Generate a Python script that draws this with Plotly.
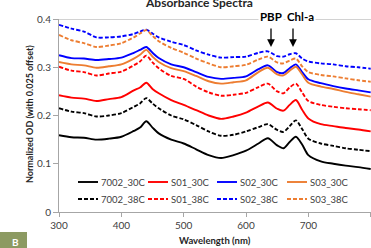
import plotly.graph_objects as go

wavelength = [300, 320, 340, 360, 380, 400, 420, 430, 440, 450, 460, 480, 500, 520, 540, 560,
              580, 600, 620, 635, 650, 660, 670, 680, 690, 700, 720, 740, 760, 780, 800]

od_7002_30C = [.159, .155, .154, .150, .152, .156, .168, .175, .188, .175, .163, .150, .142, .130, .118, .112,
               .118, .127, .142, .153, .138, .132, .145, .156, .140, .118, .105, .100, .096, .093, .089]
od_7002_38C = [.215, .208, .205, .198, .200, .205, .218, .225, .236, .225, .215, .200, .192, .180, .167, .158,
               .160, .167, .176, .182, .170, .166, .178, .190, .172, .152, .142, .137, .132, .129, .126]
od_S01_30C = [.242, .237, .235, .230, .234, .238, .252, .258, .268, .255, .246, .232, .222, .211, .200, .193,
              .198, .206, .219, .227, .214, .210, .222, .232, .212, .194, .182, .178, .174, .171, .167]
od_S01_38C = [.301, .293, .290, .283, .287, .291, .304, .312, .324, .310, .298, .282, .276, .260, .248, .241,
              .243, .247, .259, .266, .250, .246, .258, .266, .248, .230, .222, .218, .215, .213, .211]
od_S02_30C = [.325, .319, .318, .315, .317, .320, .330, .336, .342, .330, .319, .306, .300, .290, .280, .276,
              .278, .281, .296, .304, .290, .288, .298, .306, .290, .275, .267, .261, .256, .252, .248]
od_S02_38C = [.388, .380, .374, .362, .362, .364, .369, .374, .378, .370, .362, .353, .346, .335, .326, .320,
              .321, .322, .330, .333, .323, .322, .327, .329, .318, .312, .308, .306, .302, .300, .297]
od_S03_30C = [.311, .306, .304, .299, .302, .306, .318, .326, .336, .322, .311, .298, .292, .282, .271, .266,
              .269, .273, .290, .299, .285, .283, .293, .301, .285, .268, .260, .255, .249, .244, .239]
od_S03_38C = [.367, .356, .350, .342, .345, .350, .362, .370, .377, .365, .354, .340, .330, .318, .308, .300,
              .302, .305, .316, .322, .310, .308, .314, .318, .302, .290, .284, .281, .277, .273, .270]

series_names = ["7002_30C", "S01_30C", "S02_30C", "S03_30C",
                "7002_38C", "S01_38C", "S02_38C", "S03_38C"]
series_values = [od_7002_30C, od_S01_30C, od_S02_30C, od_S03_30C,
                 od_7002_38C, od_S01_38C, od_S02_38C, od_S03_38C]
series_colors = ["#000000", "#ff0000", "#0000ff", "#ed7d31",
                 "#000000", "#ff0000", "#0000ff", "#ed7d31"]
series_dash = ["solid"] * 4 + ["4px,2px"] * 4

x_ticks = [300, 400, 500, 600, 700, 800]
y_ticks = [0, 0.1, 0.2, 0.3, 0.4]
y_tick_labels = ["0", "0.1", "0.2", "0.3", "0.4"]

FONT = "Lato"
fig = go.Figure()
for name, vals, col, dash in zip(series_names, series_values, series_colors, series_dash):
    fig.add_trace(go.Scatter(x=wavelength, y=vals, mode="lines", name=name,
                             line=dict(color=col, width=1.9, dash=dash, shape="spline", smoothing=0.8),
                             showlegend=False))

# plot geometry in px
L, T, W, H = 59, 19, 312, 193
def px_x(p):
    return (p - L) / W
def px_y(p):
    return (T + H - p) / H

shapes = []
annotations = []
# top line at 0.4
shapes.append(dict(type="line", xref="paper", yref="y", x0=0, x1=1, y0=0.4, y1=0.4,
                   line=dict(color="#a6a6a6", width=1), layer="below"))

# manual legend
col_x = [78, 148, 217, 287]
row_y = [182, 199]
for i, (name, col, dash) in enumerate(zip(series_names, series_colors, series_dash)):
    r, c = divmod(i, 4)
    x0 = col_x[c]
    y = row_y[r]
    shapes.append(dict(type="line", xref="paper", yref="paper",
                       x0=px_x(x0), x1=px_x(x0 + 20), y0=px_y(y), y1=px_y(y),
                       line=dict(color=col, width=1.9, dash=dash)))
    annotations.append(dict(text=name, xref="paper", yref="paper", x=px_x(x0 + 20.5), y=px_y(y),
                            xanchor="left", yanchor="middle", showarrow=False,
                            font=dict(family=FONT, size=9.5, color="#404040")))

# title
annotations.append(dict(text="<b>Absorbance Spectra</b>", xref="paper", yref="paper",
                        x=px_x(199), y=px_y(3), xanchor="center", yanchor="middle", showarrow=False,
                        font=dict(family=FONT, size=12, color="#262626")))
# axis titles
annotations.append(dict(text="<b>Normalized OD (with 0.025 offset)</b>", xref="paper", yref="paper",
                        x=px_x(29), y=px_y(114), xanchor="center", yanchor="middle", showarrow=False,
                        textangle=-90, font=dict(family=FONT, size=9, color="#262626")))
annotations.append(dict(text="<b>Wavelength (nm)</b>", xref="paper", yref="paper",
                        x=px_x(215), y=px_y(240), xanchor="center", yanchor="middle", showarrow=False,
                        font=dict(family=FONT, size=9.5, color="#262626")))
# peak labels
annotations.append(dict(text="<b>PBP</b>", xref="paper", yref="paper", x=px_x(271), y=px_y(17),
                        xanchor="center", yanchor="middle", showarrow=False, bgcolor="white",
                        font=dict(family=FONT, size=11.5, color="#000000")))
annotations.append(dict(text="<b>Chl-a</b>", xref="paper", yref="paper", x=px_x(300), y=px_y(17),
                        xanchor="center", yanchor="middle", showarrow=False, bgcolor="white",
                        font=dict(family=FONT, size=11.5, color="#000000")))
for ax_px in [271, 293]:
    annotations.append(dict(text="", xref="paper", yref="paper", x=px_x(ax_px), y=px_y(47),
                            ax=0, ay=-20, axref="pixel", ayref="pixel",
                            showarrow=True, arrowhead=2, arrowsize=1.2, arrowwidth=1.3,
                            arrowcolor="#000000"))
# panel label "B"
shapes.append(dict(type="rect", xref="paper", yref="paper", x0=px_x(0), x1=px_x(27),
                   y0=px_y(248), y1=px_y(232), fillcolor="#8c9a62", line=dict(width=0)))
annotations.append(dict(text="<b>B</b>", xref="paper", yref="paper", x=px_x(15), y=px_y(242),
                        xanchor="center", yanchor="middle", showarrow=False,
                        font=dict(family=FONT, size=10, color="white")))

fig.update_layout(
    width=371, height=248,
    margin=dict(l=L, r=0, t=T, b=248 - T - H, pad=0),
    plot_bgcolor="white", paper_bgcolor="white",
    shapes=shapes, annotations=annotations,
    xaxis=dict(range=[300, 800.5], tickvals=x_ticks, showgrid=False, zeroline=False,
               showline=True, linecolor="#a6a6a6", linewidth=1, ticks="outside", ticklen=4,
               tickcolor="#a6a6a6", automargin=False,
               tickfont=dict(family=FONT, size=10, color="#404040")),
    yaxis=dict(range=[0, 0.4], tickvals=y_ticks, ticktext=y_tick_labels, showgrid=False,
               zeroline=False, showline=True, linecolor="#a6a6a6", linewidth=1, ticks="outside",
               ticklen=5, tickcolor="#a6a6a6", automargin=False,
               tickfont=dict(family=FONT, size=10, color="#404040")),
)
fig.write_html("out.html", config={"displayModeBar": False},
               post_script="document.body.style.margin='0';document.body.style.padding='0';")
